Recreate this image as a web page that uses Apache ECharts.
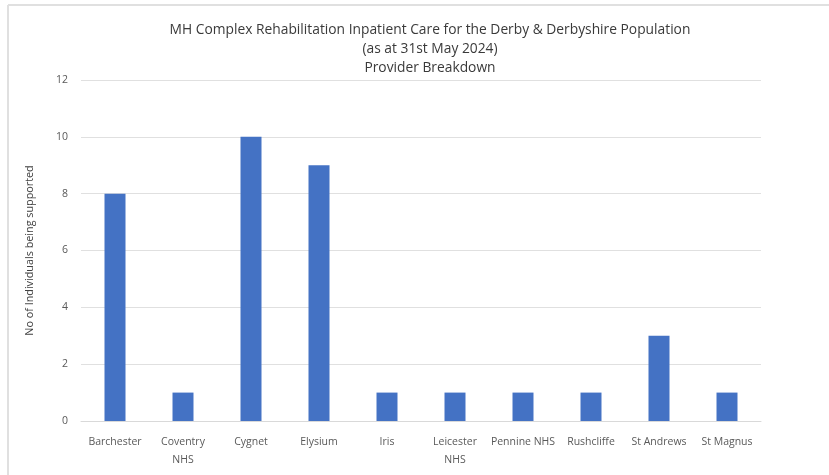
<!DOCTYPE html>
<html lang="en">
<head>
    <meta charset="UTF-8">
    <title>provider breakdown</title>
    <script src="https://cdn.jsdelivr.net/npm/echarts@6/dist/echarts.min.js"></script>
</head>
<body style="margin:0;background:#fff;">
<div id="chart" style="width: 829px;height:475px;"></div>
<script>
    let providers = ['Barchester', 'Coventry\nNHS', 'Cygnet', 'Elysium', 'Iris', 'Leicester\nNHS', 'Pennine NHS', 'Rushcliffe', 'St Andrews', 'St Magnus'];
    let individuals = [8, 1, 10, 9, 1, 1, 1, 1, 3, 1];
    let titleLines = ['MH Complex Rehabilitation Inpatient Care for the Derby & Derbyshire Population', '(as at 31st May 2024)', 'Provider Breakdown'];

    let chart = echarts.init(document.getElementById('chart'));

    let option = {
        textStyle: {fontFamily: 'Open Sans'},
        title: {
            text: titleLines.join('\n'),
            left: 425,
            textAlign: 'center',
            top: 16,
            textStyle: {fontSize: 13.8, fontWeight: 'normal', color: '#3a3a3a', lineHeight: 19}
        },
        // faint frame on top and left edge
        graphic: [
            {type: 'line', shape: {x1: 8, y1: 5, x2: 829, y2: 5}, style: {stroke: '#e0e0e0', lineWidth: 2}},
            {type: 'line', shape: {x1: 8, y1: 5, x2: 8, y2: 475}, style: {stroke: '#e0e0e0', lineWidth: 2}}
        ],
        grid: {left: 81, right: 68, top: 80, bottom: 54},
        xAxis: {
            type: 'category',
            data: providers,
            axisLine: {lineStyle: {color: '#d9d9d9'}},
            axisTick: {show: false},
            axisLabel: {color: '#595959', fontSize: 10.5, margin: 12, lineHeight: 18, interval: 0}
        },
        yAxis: {
            type: 'value',
            min: 0,
            max: 12,
            interval: 2,
            name: 'No of Individuals being supported',
            nameLocation: 'middle',
            nameGap: 46,
            nameTextStyle: {color: '#404040', fontSize: 10.8},
            axisLabel: {color: '#595959', fontSize: 10.5, margin: 13},
            splitLine: {lineStyle: {color: '#e0e0e0'}}
        },
        series: [{
            type: 'bar',
            data: individuals,
            barWidth: 21,
            itemStyle: {color: '#4472c4'}
        }]
    };
    chart.setOption(option);
</script>
</body>
</html>
